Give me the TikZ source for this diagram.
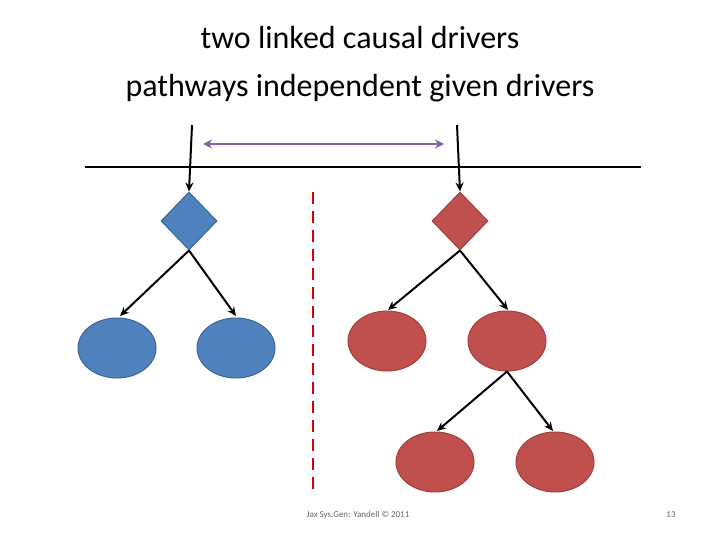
\documentclass[tikz,border=0pt]{standalone}
\usepackage{fontspec}
\setmainfont{Carlito}
\usetikzlibrary{shapes.geometric,arrows.meta}
\definecolor{bl}{HTML}{4F81BD}\definecolor{bld}{HTML}{3A6596}
\definecolor{rd}{HTML}{C0504D}\definecolor{rdd}{HTML}{A33F3C}
\definecolor{pu}{HTML}{8064A2}
\begin{document}
\begin{tikzpicture}[x=1pt,y=-1pt,
 arr/.style={line width=2pt,-{Stealth[length=9pt,width=8pt]}},
 dia/.style={diamond,minimum width=56pt,minimum height=58pt,inner sep=0pt,line width=1pt},
 ell/.style={ellipse,minimum width=78pt,minimum height=60pt,line width=1pt}]
\useasboundingbox (0,0) rectangle (720,540);
\node (t) at (360,64) [align=center,font=\fontsize{32}{48}\selectfont] {two linked causal drivers\\pathways independent given drivers};
\coordinate (hl) at (85,167); \coordinate (hr) at (641,167);
\draw[line width=2pt] (hl) -- (hr);
\node[dia,fill=bl,draw=bld] (bd) at (189,221) {};
\node[dia,fill=rd,draw=rdd] (rdm) at (460,221) {};
\coordinate (ls) at (192,125); \coordinate (rs) at (457,125);
\draw[arr] (ls) -- (bd.north);
\draw[arr] (rs) -- (rdm.north);
\coordinate (pl) at (203,144); \coordinate (pr) at (444,144);
\draw[pu,line width=2.5pt,{Stealth[length=9pt,width=9pt]}-{Stealth[length=9pt,width=9pt]}] (pl) -- (pr);
\node[ell,fill=bl,draw=bld] (b1) at (117,348) {};
\node[ell,fill=bl,draw=bld] (b2) at (236,348) {};
\node[ell,fill=rd,draw=rdd] (r1) at (387,341) {};
\node[ell,fill=rd,draw=rdd] (r2) at (507,341) {};
\node[ell,fill=rd,draw=rdd] (r3) at (435,462) {};
\node[ell,fill=rd,draw=rdd] (r4) at (555,462) {};
\draw[arr] (bd.south) -- (120,316);
\draw[arr] (bd.south) -- (236,316);
\draw[arr] (rdm.south) -- (388,310);
\draw[arr] (rdm.south) -- (508,310);
\draw[arr] (r2.south) -- (437,431);
\draw[arr] (r2.south) -- (553,431);
\coordinate (dt) at (313,192); \coordinate (db) at (313,490);
\draw[red!85!black,line width=2.5pt,dash pattern=on 12pt off 7pt] (dt) -- (db);
\node[text=gray!80!black,font=\fontsize{9}{11}\selectfont] (f) at (358,515) {Jax Sys.Gen: Yandell © 2011};
\node[text=gray!80!black,font=\fontsize{9}{11}\selectfont] (n) at (671,515) {13};
\end{tikzpicture}
\end{document}
